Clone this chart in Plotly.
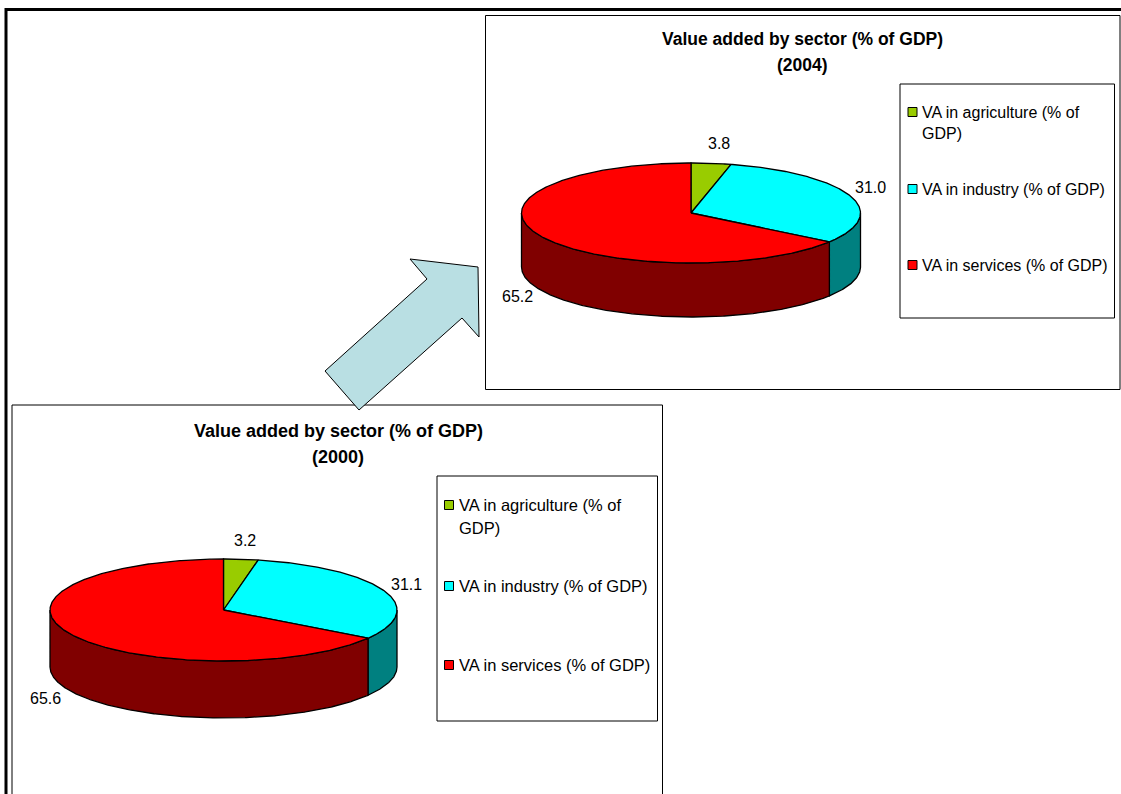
import numpy as np
import plotly.graph_objects as go

# Sector shares in percent of GDP
categories = ["VA in agriculture (% of<br>GDP)", "VA in industry (% of GDP)", "VA in services (% of GDP)"]
values_2000 = [3.2, 31.1, 65.6]
values_2004 = [3.8, 31.0, 65.2]
labels_2000 = ["3.2", "31.1", "65.6"]
labels_2004 = ["3.8", "31.0", "65.2"]

TOP_COLORS = ["#99cc00", "#00ffff", "#ff0000"]
SIDE_COLORS = ["#4c6600", "#008080", "#800000"]
BODY_FONT = "Liberation Sans"
W, H = 1121, 794

fig = go.Figure()


def polygon(xs, ys, color):
    fig.add_trace(go.Scatter(
        x=xs, y=ys, mode="lines", fill="toself", fillcolor=color,
        line=dict(color="black", width=1.3), hoverinfo="skip", showlegend=False,
    ))


def rim(cx, cy, rx, ry, start, end):
    # Points on the ellipse, with angles measured clockwise from twelve o'clock
    t = np.radians(np.linspace(start, end, max(int(abs(end - start)) * 2, 2)))
    return cx + rx * np.sin(t), cy - ry * np.cos(t)


def tilted_pie(values, cx, cy, rx, ry, depth):
    angles = np.concatenate([[0], np.cumsum(values)]) / sum(values) * 360
    # Side walls first: only the front half of the rim is visible
    for i in range(len(values)):
        a, b = max(angles[i], 90), min(angles[i + 1], 270)
        if b > a:
            x, y = rim(cx, cy, rx, ry, a, b)
            polygon(np.concatenate([x, x[::-1], x[:1]]),
                    np.concatenate([y, y[::-1] + depth, y[:1]]), SIDE_COLORS[i])
    # Top faces
    for i in range(len(values)):
        x, y = rim(cx, cy, rx, ry, angles[i], angles[i + 1])
        polygon(np.concatenate([[cx], x, [cx]]), np.concatenate([[cy], y, [cy]]), TOP_COLORS[i])


def text(x, y, s, size=16, bold=False, anchor="left"):
    fig.add_annotation(
        x=x, y=y, text=f"<b>{s}</b>" if bold else s, showarrow=False,
        xanchor=anchor, yanchor="middle", align="left",
        font=dict(family=BODY_FONT, size=size, color="black"),
    )


def frame(x0, y0, x1, y1, width=1):
    return dict(type="rect", xref="x", yref="y", x0=x0, y0=y0, x1=x1, y1=y1,
                line=dict(color="black", width=width), fillcolor="rgba(0,0,0,0)", layer="below")


def panel(values, labels, year, title_x, title_y, title_size, pie, label_xy, key_x, key_ys, gdp_y, key_size):
    tilted_pie(values, *pie)
    for (x, y), s in zip(label_xy, labels):
        text(x, y, s, anchor="center")
    text(title_x, title_y, "Value added by sector (% of GDP)", size=title_size, bold=True, anchor="center")
    text(title_x, title_y + 26, f"({year})", size=title_size, bold=True, anchor="center")
    fig.add_trace(go.Scatter(
        x=[key_x] * 3, y=key_ys, mode="markers", hoverinfo="skip", showlegend=False,
        marker=dict(symbol="square", size=9, color=TOP_COLORS, line=dict(color="black", width=1)),
    ))
    first, second = categories[0].split("<br>")
    text(key_x + 7.5, key_ys[0], first, size=key_size)
    text(key_x + 7.5, gdp_y, second, size=key_size)
    text(key_x + 7.5, key_ys[1], categories[1], size=key_size)
    text(key_x + 7.5, key_ys[2], categories[2], size=key_size)


panel(values_2004, labels_2004, 2004, 802, 39, 17.5, (691, 213, 169.5, 50, 54),
      [(719, 143), (870, 187), (517, 296)], 912.5, [112, 189, 265], 133, 16)
panel(values_2000, labels_2000, 2000, 338, 431, 18, (223.5, 610, 173.5, 51, 57),
      [(245, 540), (406, 584), (45, 698)], 449, [505, 586, 665], 528, 16.5)

# Outer page border and the chart and key frames
page_border = dict(type="path", xref="x", yref="y", path=f"M 6 {H + 5} L 6 9.5 L {W + 5} 9.5",
                   line=dict(color="black", width=3), layer="below")
arrow_path = "M 410 259 L 478 267 L 479 337 L 462 318 L 359 410 L 325 371 L 427 279 Z"
arrow = dict(type="path", xref="x", yref="y", path=arrow_path, fillcolor="#b9dfe3",
             line=dict(color="black", width=1), layer="below")

fig.update_layout(
    width=W, height=H, margin=dict(l=0, r=0, t=0, b=0),
    paper_bgcolor="white", plot_bgcolor="white", showlegend=False,
    xaxis=dict(range=[0, W], visible=False, fixedrange=True),
    yaxis=dict(range=[H, 0], visible=False, fixedrange=True),
    shapes=[
        page_border,
        frame(485.5, 15.5, 1120, 389.5),
        frame(900, 84, 1114.5, 318),
        frame(12, 405, 662.5, H + 5),
        frame(437, 476, 657.5, 721),
        arrow,
    ],
)
fig.write_html("out.html", config=dict(displayModeBar=False))
